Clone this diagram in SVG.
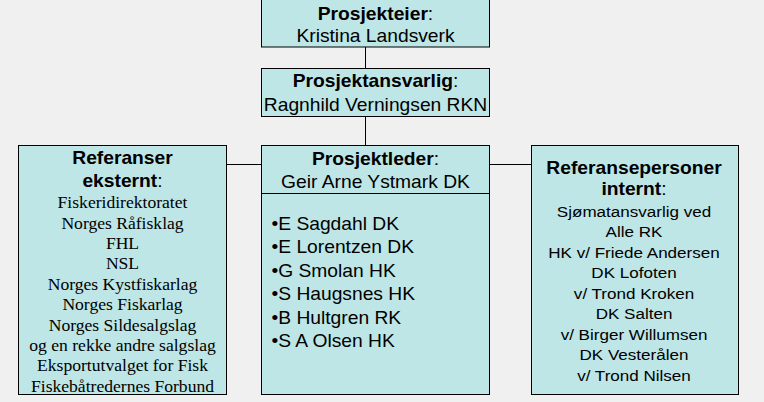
<svg xmlns="http://www.w3.org/2000/svg" width="764" height="402" viewBox="0 0 764 402">
<style>
.box{fill:#bee6e6;stroke:#000;stroke-width:1}
.ln{stroke:#000;stroke-width:1;fill:none}
.a{font-family:"Liberation Sans",Arial,sans-serif;fill:#000}
.b{font-weight:bold}
.big{font-size:17.5px}
.sm{font-size:15.5px}
.ser{font-family:"Liberation Serif","Times New Roman",serif;font-size:16px;fill:#000}
.c{text-anchor:middle}
</style>
<rect x="0" y="0" width="764" height="402" fill="#f0f0f0"/>
<g id="connectors">
<line class="ln" x1="365.5" y1="47" x2="365.5" y2="68"/>
<line class="ln" x1="365.5" y1="117" x2="365.5" y2="145"/>
<line class="ln" x1="227" y1="164.5" x2="261" y2="164.5"/>
<line class="ln" x1="489" y1="164.5" x2="531" y2="164.5"/>
</g>
<g id="prosjekteier">
<rect class="box" x="261.5" y="-2" width="228" height="49"/>
<g transform="translate(375.5,0) scale(1.1,1)">
<text class="a big c" x="0" y="20"><tspan class="b">Prosjekteier</tspan>:</text>
<text class="a big c" x="0" y="42.5">Kristina Landsverk</text>
</g>
</g>
<g id="prosjektansvarlig">
<rect class="box" x="261.5" y="68.5" width="228" height="48"/>
<g transform="translate(375.5,0) scale(1.1,1)">
<text class="a big c" x="0" y="87.5"><tspan class="b">Prosjektansvarlig</tspan>:</text>
<text class="a big c" x="0" y="111">Ragnhild Verningsen RKN</text>
</g>
</g>
<g id="prosjektleder">
<rect class="box" x="261.5" y="145.5" width="228" height="249"/>
<line class="ln" x1="261.5" y1="193.5" x2="489.5" y2="193.5"/>
<g transform="translate(375.5,0) scale(1.1,1)">
<text class="a big c" x="0" y="165.5"><tspan class="b">Prosjektleder</tspan>:</text>
<text class="a big c" x="0" y="188.5">Geir Arne Ystmark DK</text>
</g>
<g transform="translate(271.5,0) scale(1.1,1)">
<text class="a big" x="0" y="230">•E Sagdahl DK</text>
<text class="a big" x="0" y="253.5">•E Lorentzen DK</text>
<text class="a big" x="0" y="277">•G Smolan HK</text>
<text class="a big" x="0" y="300.5">•S Haugsnes HK</text>
<text class="a big" x="0" y="324">•B Hultgren RK</text>
<text class="a big" x="0" y="347.5">•S A Olsen HK</text>
</g>
</g>
<g id="referanser-eksternt">
<rect class="box" x="18.5" y="145.5" width="208" height="249"/>
<g transform="translate(122.5,0) scale(1.1,1)">
<text class="a big c" x="0" y="164"><tspan class="b">Referanser</tspan></text>
<text class="a big c" x="0" y="186.7"><tspan class="b">eksternt</tspan>:</text>
<text class="ser c" x="0" y="208.3">Fiskeridirektoratet</text>
<text class="ser c" x="0" y="228.7">Norges Råfisklag</text>
<text class="ser c" x="0" y="249.1">FHL</text>
<text class="ser c" x="0" y="269.5">NSL</text>
<text class="ser c" x="0" y="289.9">Norges Kystfiskarlag</text>
<text class="ser c" x="0" y="310.3">Norges Fiskarlag</text>
<text class="ser c" x="0" y="330.7">Norges Sildesalgslag</text>
<text class="ser c" x="0" y="351.1">og en rekke andre salgslag</text>
<text class="ser c" x="0" y="371.5">Eksportutvalget for Fisk</text>
<text class="ser c" x="0" y="391.9">Fiskebåtredernes Forbund</text>
</g>
</g>
<g id="referansepersoner-internt">
<rect class="box" x="531.5" y="145.5" width="207" height="249"/>
<g transform="translate(634,0) scale(1.1,1)">
<text class="a big c" x="0" y="174.3"><tspan class="b">Referansepersoner</tspan></text>
<text class="a big c" x="0" y="195.5"><tspan class="b">internt</tspan>:</text>
<text class="a sm c" x="0" y="217">Sjømatansvarlig ved</text>
<text class="a sm c" x="0" y="237.5">Alle RK</text>
<text class="a sm c" x="0" y="258">HK v/ Friede Andersen</text>
<text class="a sm c" x="0" y="278.5">DK Lofoten</text>
<text class="a sm c" x="0" y="299">v/ Trond Kroken</text>
<text class="a sm c" x="0" y="319.5">DK Salten</text>
<text class="a sm c" x="0" y="340">v/ Birger Willumsen</text>
<text class="a sm c" x="0" y="360.5">DK Vesterålen</text>
<text class="a sm c" x="0" y="381">v/ Trond Nilsen</text>
</g>
</g>
</svg>
